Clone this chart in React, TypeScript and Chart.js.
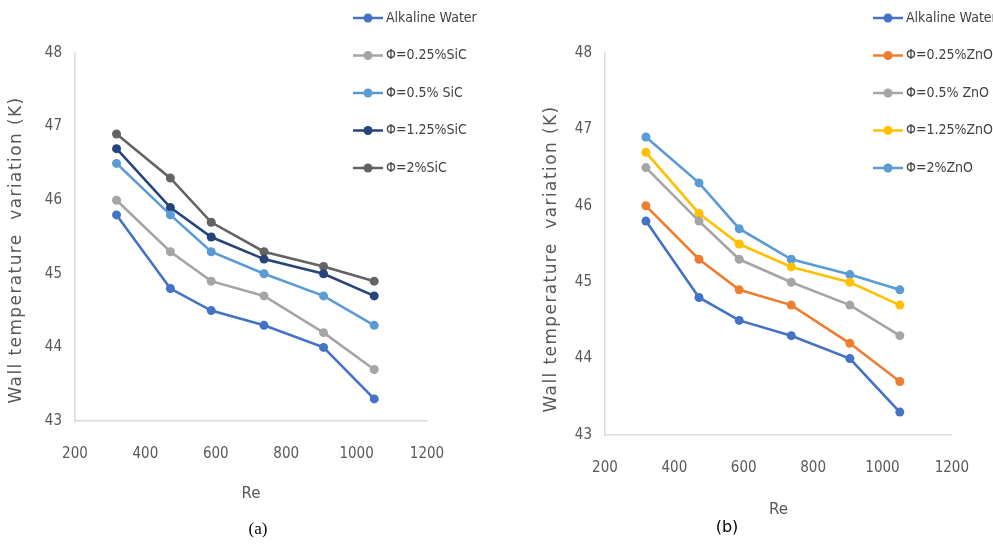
import React, { useEffect, useRef } from "react";
import { Chart, registerables } from "chart.js";

Chart.register(...registerables);

// ---- data ----
const reynolds = [318, 471, 587, 737, 906, 1050];
const alkalineWater = [45.8, 44.8, 44.5, 44.3, 44.0, 43.3];
const phi025 = [46.0, 45.3, 44.9, 44.7, 44.2, 43.7];
const phi05 = [46.5, 45.8, 45.3, 45.0, 44.7, 44.3];
const phi125 = [46.7, 45.9, 45.5, 45.2, 45.0, 44.7];
const phi2 = [46.9, 46.3, 45.7, 45.3, 45.1, 44.9];

const sicLabels = ["Alkaline Water", "\u03A6=0.25%SiC", "\u03A6=0.5% SiC", "\u03A6=1.25%SiC", "\u03A6=2%SiC"];
const znoLabels = ["Alkaline Water", "\u03A6=0.25%ZnO", "\u03A6=0.5% ZnO", "\u03A6=1.25%ZnO", "\u03A6=2%ZnO"];
const sicColors = ["#4472C4", "#A5A5A5", "#5B9BD5", "#264478", "#636363"];
const znoColors = ["#4472C4", "#ED7D31", "#A5A5A5", "#FFC000", "#5B9BD5"];

const xMin = 200;
const xMax = 1200;
const xStep = 200;
const yMin = 43;
const yMax = 48;
const yStep = 1;

const xTitle = "Re";
const yTitle = "Wall temperature  variation (K)";

const NARROW = "'DejaVu Sans Condensed', 'Roboto Condensed', sans-serif";
const WIDE = "'DejaVu Sans', 'Noto Sans', sans-serif";
const TEXT = "#595959";

const overlayPlugin = {
  id: "overlay",
  afterDraw(chart: any, _args: any, opts: any) {
    const ctx = chart.ctx;
    ctx.save();
    const lg = opts.legend;
    chart.data.datasets.forEach((ds: any, i: number) => {
      const yy = lg.y + i * lg.dy;
      ctx.strokeStyle = ds.borderColor;
      ctx.lineWidth = 2.5;
      ctx.beginPath();
      ctx.moveTo(lg.x, yy);
      ctx.lineTo(lg.x + lg.len, yy);
      ctx.stroke();
      ctx.fillStyle = ds.borderColor;
      ctx.beginPath();
      ctx.arc(lg.x + lg.len / 2, yy, 4.5, 0, Math.PI * 2);
      ctx.fill();
      ctx.fillStyle = "#404040";
      ctx.font = lg.font;
      ctx.textAlign = "left";
      ctx.textBaseline = "middle";
      ctx.fillText(ds.label, lg.x + lg.len + lg.gap, yy);
    });
    const yt = opts.yTitle;
    ctx.translate(yt.x, yt.y);
    ctx.rotate(-Math.PI / 2);
    ctx.font = yt.font;
    try {
      (ctx as any).letterSpacing = yt.spacing;
    } catch (e) {}
    ctx.fillStyle = TEXT;
    ctx.textAlign = "center";
    ctx.textBaseline = "middle";
    ctx.fillText(yt.text, 0, 0);
    ctx.restore();
  },
};

type Geom = {
  w: number;
  h: number;
  yWidth: number;
  right: number;
  xHeight: number;
  xTickPad: number;
  xTitlePad: number;
  legendX: number;
  yTitleX: number;
  yTitleY: number;
};

function LineChart({ labels, colors, geom }: { labels: string[]; colors: string[]; geom: Geom }) {
  const ref = useRef<HTMLCanvasElement>(null);
  useEffect(() => {
    const series = [alkalineWater, phi025, phi05, phi125, phi2];
    const chart = new Chart(ref.current as HTMLCanvasElement, {
      type: "line",
      data: {
        datasets: series.map((vals, i) => ({
          label: labels[i],
          data: reynolds.map((r, j) => ({ x: r, y: vals[j] })),
          borderColor: colors[i],
          backgroundColor: colors[i],
          borderWidth: 2.6,
          pointRadius: 4.5,
          pointStyle: "circle",
          pointBorderWidth: 0,
          tension: 0,
          fill: false,
        })),
      },
      options: {
        animation: false,
        responsive: false,
        maintainAspectRatio: false,
        layout: { padding: { left: 0, top: 53, right: geom.right, bottom: 0 } },
        plugins: {
          legend: { display: false },
          tooltip: { enabled: false },
          overlay: {
            legend: { x: geom.legendX, y: 18, dy: 37.5, len: 30, gap: 3, font: `14px ${NARROW}` },
            yTitle: { text: yTitle, x: geom.yTitleX, y: geom.yTitleY, font: `17px ${WIDE}`, spacing: "1.4px" },
          },
        } as any,
        scales: {
          x: {
            type: "linear",
            min: xMin,
            max: xMax,
            ticks: {
              stepSize: xStep,
              color: TEXT,
              font: { family: NARROW, size: 15 },
              padding: geom.xTickPad,
              callback: (v: any) => String(v),
            },
            grid: { display: false, drawTicks: false },
            border: { display: true, color: "#D9D9D9", width: 1.5 },
            title: {
              display: true,
              text: xTitle,
              color: TEXT,
              font: { family: WIDE, size: 15 },
              padding: { top: 0, bottom: geom.xTitlePad },
            },
            afterFit: (s: any) => {
              s.height = geom.xHeight;
            },
          },
          y: {
            type: "linear",
            min: yMin,
            max: yMax,
            ticks: {
              stepSize: yStep,
              color: TEXT,
              font: { family: NARROW, size: 15 },
              padding: 13,
              callback: (v: any) => String(v),
            },
            grid: { display: false, drawTicks: false },
            border: { display: true, color: "#D9D9D9", width: 1.5 },
            afterFit: (s: any) => {
              s.width = geom.yWidth;
            },
          },
        },
      },
      plugins: [overlayPlugin],
    } as any);
    return () => chart.destroy();
  }, []);
  return <canvas ref={ref} width={geom.w} height={geom.h} style={{ width: geom.w, height: geom.h, display: "block" }} />;
}

const leftGeom: Geom = {
  w: 495,
  h: 535,
  yWidth: 75,
  right: 68,
  xHeight: 114,
  xTickPad: 24,
  xTitlePad: 32,
  legendX: 353,
  yTitleX: 17,
  yTitleY: 250,
};

const rightGeom: Geom = {
  w: 496,
  h: 535,
  yWidth: 108,
  right: 23,
  xHeight: 100,
  xTickPad: 24,
  xTitlePad: 16,
  legendX: 376,
  yTitleX: 55,
  yTitleY: 259,
};

export default function App() {
  return (
    <div style={{ position: "fixed", left: 0, top: 0, width: 993, height: 547, background: "#fff", overflow: "hidden" }}>
      <div style={{ position: "absolute", left: 0, top: 0 }}>
        <LineChart labels={sicLabels} colors={sicColors} geom={leftGeom} />
      </div>
      <div style={{ position: "absolute", left: 497, top: 0 }}>
        <LineChart labels={znoLabels} colors={znoColors} geom={rightGeom} />
      </div>
      <div style={{ position: "absolute", left: 233, top: 519, width: 50, textAlign: "center", fontFamily: "'Liberation Serif', 'DejaVu Serif', serif", fontSize: 17, color: "#000" }}>(a)</div>
      <div style={{ position: "absolute", left: 702, top: 517, width: 50, textAlign: "center", fontFamily: "'DejaVu Sans', sans-serif", fontSize: 16, color: "#000" }}>(b)</div>
    </div>
  );
}
